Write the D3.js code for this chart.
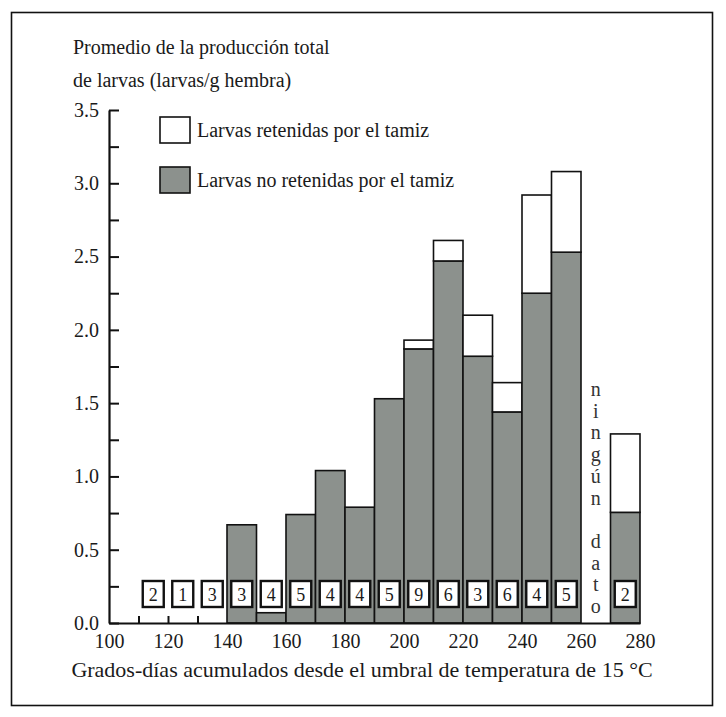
<!DOCTYPE html>
<html>
<head>
<meta charset="utf-8">
<script src="https://cdn.jsdelivr.net/npm/d3@7"></script>
<style>
  html, body { margin: 0; padding: 0; background: #fff; }
  svg { display: block; }
</style>
</head>
<body>
<svg id="chart" width="726" height="717"></svg>
<script>
// ---- data ----
const binStarts   = [110, 120, 130, 140, 150, 160, 170, 180, 190, 200, 210, 220, 230, 240, 250, 260, 270];
const notRetained = [0, 0, 0, 0.67, 0.07, 0.74, 1.04, 0.79, 1.53, 1.87, 2.47, 1.82, 1.44, 2.25, 2.53, null, 0.755];
const totalLarvae = [0, 0, 0, 0.67, 0.07, 0.74, 1.04, 0.79, 1.53, 1.93, 2.61, 2.10, 1.64, 2.92, 3.08, null, 1.29];
const sampleCounts = [2, 1, 3, 3, 4, 5, 4, 4, 5, 9, 6, 3, 6, 4, 5, null, 2];
const xTickLabels = [100, 120, 140, 160, 180, 200, 220, 240, 260, 280];
const xMinorTicks = [110, 120, 130];
const yTicks = [0, 0.25, 0.5, 0.75, 1, 1.25, 1.5, 1.75, 2, 2.25, 2.5, 2.75, 3, 3.25, 3.5];
const yTitleLines = ["Promedio de la producción total", "de larvas (larvas/g hembra)"];
const xTitle = "Grados-días acumulados desde el umbral de temperatura de 15 °C";
const legendLabels = ["Larvas retenidas por el tamiz", "Larvas no retenidas por el tamiz"];
const noDataBin = 260;
const noDataText = "ningún dato";

const binWidth = 10;
const grayFill = "#8c918d";
const FONT = "Liberation Serif";
const INK = "#1a1a1a";

function serif(sel, size, color) {
  return sel.attr("font-family", FONT).style("font-family", `"${FONT}"`)
    .attr("font-size", size).style("font-size", size + "px")
    .attr("fill", color || INK);
}

const svg = d3.select("#chart");

// frame
svg.append("rect")
  .attr("x", 11.5).attr("y", 12.5).attr("width", 701).attr("height", 693)
  .attr("fill", "none").attr("stroke", "#111").attr("stroke-width", 1.6);

const x = d3.scaleLinear().domain([100, 280]).range([109, 640]);
const y = d3.scaleLinear().domain([0, 3.5]).range([623, 110]);

// y title
yTitleLines.forEach((line, i) => {
  serif(svg.append("text").attr("x", 73).attr("y", 54 + i * 33), 20).text(line);
});

// minor x ticks (inside)
svg.append("g").attr("transform", `translate(0,${y(0)})`)
  .call(d3.axisBottom(x).tickValues(xMinorTicks).tickSize(-7).tickFormat(""))
  .call(g => g.select(".domain").remove())
  .call(g => g.selectAll("line").attr("stroke", "#111").attr("stroke-width", 2));

// bars
const data = binStarts.map((b, i) => ({ b, gray: notRetained[i], total: totalLarvae[i], n: sampleCounts[i] }));
const bars = svg.append("g");
data.filter(d => d.gray !== null && d.total > 0).forEach(d => {
  bars.append("rect")
    .attr("x", x(d.b)).attr("width", x(d.b + binWidth) - x(d.b))
    .attr("y", y(d.gray)).attr("height", y(0) - y(d.gray))
    .attr("fill", grayFill).attr("stroke", "#111").attr("stroke-width", 1.6);
  if (d.total > d.gray) {
    bars.append("rect")
      .attr("x", x(d.b)).attr("width", x(d.b + binWidth) - x(d.b))
      .attr("y", y(d.total)).attr("height", y(d.gray) - y(d.total))
      .attr("fill", "#fff").attr("stroke", "#111").attr("stroke-width", 1.6);
  }
});

// x axis
svg.append("g").attr("transform", `translate(0,${y(0)})`)
  .call(d3.axisBottom(x).tickValues(xTickLabels).tickSize(0).tickPadding(11).tickSizeOuter(0))
  .attr("font-family", FONT).attr("font-size", 20)
  .call(g => g.select(".domain").attr("stroke", "#111").attr("stroke-width", 2.2))
  .call(g => g.selectAll("text").each(function () { serif(d3.select(this), 20); }));

// y axis
svg.append("g").attr("transform", `translate(${x(100)},0)`)
  .call(d3.axisLeft(y).tickValues(yTicks).tickSize(-10).tickPadding(10).tickSizeOuter(0)
    .tickFormat(d => (Math.round(d * 100) % 50 === 0) ? d3.format(".1f")(d) : ""))
  .attr("font-family", FONT).attr("font-size", 20)
  .call(g => g.select(".domain").attr("stroke", "#111").attr("stroke-width", 2.2))
  .call(g => g.selectAll("line").attr("stroke", "#111").attr("stroke-width", 2))
  .call(g => g.selectAll("text").each(function () { serif(d3.select(this), 20); }));

// count boxes
data.filter(d => d.n !== null).forEach(d => {
  const cx = x(d.b + binWidth / 2);
  svg.append("rect")
    .attr("x", cx - 10.5).attr("y", 581).attr("width", 21).attr("height", 26)
    .attr("fill", "#fff").attr("stroke", "#111").attr("stroke-width", 2.4);
  serif(svg.append("text").attr("x", cx).attr("y", 600.5).attr("text-anchor", "middle"), 18).text(d.n);
});

// no data vertical text
Array.from(noDataText).forEach((ch, i) => {
  serif(svg.append("text").attr("x", x(noDataBin + binWidth / 2)).attr("y", 396 + i * 21.7)
    .attr("text-anchor", "middle"), 20, "#333").text(ch);
});

// legend
legendLabels.forEach((lab, i) => {
  svg.append("rect")
    .attr("x", 160).attr("y", 117 + i * 50).attr("width", 30).attr("height", 26)
    .attr("fill", i === 0 ? "#fff" : grayFill).attr("stroke", "#111").attr("stroke-width", 1.6);
  serif(svg.append("text").attr("x", 197).attr("y", 137 + i * 50), 20).text(lab);
});

// x title
serif(svg.append("text").attr("x", 362).attr("y", 677).attr("text-anchor", "middle"), 22).text(xTitle);
</script>
</body>
</html>
